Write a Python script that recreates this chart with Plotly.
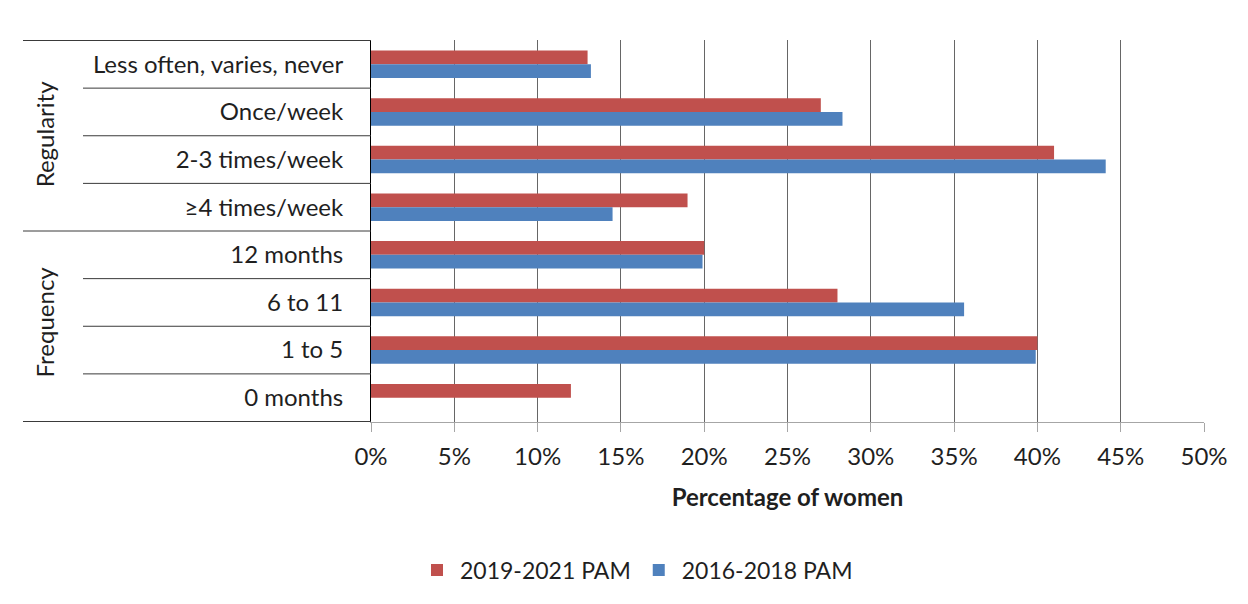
import plotly.graph_objects as go

categories = ["Less often, varies, never", "Once/week", "2-3 times/week", "≥4 times/week",
              "12 months", "6 to 11", "1 to 5", "0 months"]
groups = ["Regularity", "Frequency"]
pam_2019_2021 = [13.0, 27.0, 41.0, 19.0, 20.0, 28.0, 40.0, 12.0]
pam_2016_2018 = [13.2, 28.3, 44.1, 14.5, 19.9, 35.6, 39.9, 0.0]
x_ticks = [0, 5, 10, 15, 20, 25, 30, 35, 40, 45, 50]

W, H = 1248, 604
L, R, T, B = 0, 44, 40, 182
PW = W - L - R
PH = H - T - B
x0_px = 371
font_family = "Lato, 'Open Sans', sans-serif"
text_color = "#1f1f1f"
fs = 24

fig = go.Figure()
fig.add_trace(go.Bar(y=categories, x=pam_2019_2021, orientation="h", name="2019-2021 PAM",
                     marker=dict(color="#C0504D", line=dict(width=0))))
fig.add_trace(go.Bar(y=categories, x=pam_2016_2018, orientation="h", name="2016-2018 PAM",
                     marker=dict(color="#4F81BD", line=dict(width=0))))

shapes = []
line_col = "#3a3a3a"
for yb in [-0.5, 3.5, 7.5]:
    shapes.append(dict(type="line", xref="paper", yref="y", x0=23 / PW, x1=x0_px / PW,
                       y0=yb, y1=yb, line=dict(color=line_col, width=1)))
for yb in [0.5, 1.5, 2.5, 4.5, 5.5, 6.5]:
    shapes.append(dict(type="line", xref="paper", yref="y", x0=83 / PW, x1=x0_px / PW,
                       y0=yb, y1=yb, line=dict(color=line_col, width=1)))

annotations = [
    dict(text=groups[0], xref="paper", yref="y", x=44 / PW, y=1.47, textangle=-90,
         xanchor="center", yanchor="middle",
         showarrow=False, font=dict(size=fs, color=text_color, family=font_family)),
    dict(text=groups[1], xref="paper", yref="y", x=44 / PW, y=5.42, textangle=-90,
         xanchor="center", yanchor="middle",
         showarrow=False, font=dict(size=fs, color=text_color, family=font_family)),
]

fig.update_layout(
    width=W, height=H,
    margin=dict(l=L, r=R, t=T, b=B, autoexpand=False),
    paper_bgcolor="white", plot_bgcolor="white",
    barmode="group", bargap=0.42, bargroupgap=0,
    font=dict(family=font_family, size=fs, color=text_color),
    shapes=shapes, annotations=annotations,
    legend=dict(orientation="h", x=636 / PW, xanchor="center", y=-(570 - T - PH) / PH,
                yanchor="middle", font=dict(size=23, color=text_color), itemwidth=36,
                traceorder="normal"),
    xaxis=dict(domain=[x0_px / PW, 1], range=[0, 50], tickvals=x_ticks,
               ticktext=[f"{v}%" for v in x_ticks], automargin=False,
               showgrid=True, gridcolor="#666666", gridwidth=1, zeroline=False,
               showline=True, linecolor="#a6a6a6", linewidth=1,
               ticks="outside", ticklen=9, tickcolor="#a6a6a6",
               ticklabelstandoff=4,
               tickfont=dict(size=fs, color=text_color),
               title=dict(text="<b>Percentage of women</b>", standoff=20,
                          font=dict(size=24, color=text_color))),
    yaxis=dict(autorange="reversed", showgrid=False, zeroline=False, automargin=False,
               showline=True, linecolor="#000000", linewidth=1,
               ticks="", ticklabelstandoff=22,
               tickfont=dict(size=fs, color=text_color)),
)

fig.write_html("out.html")
